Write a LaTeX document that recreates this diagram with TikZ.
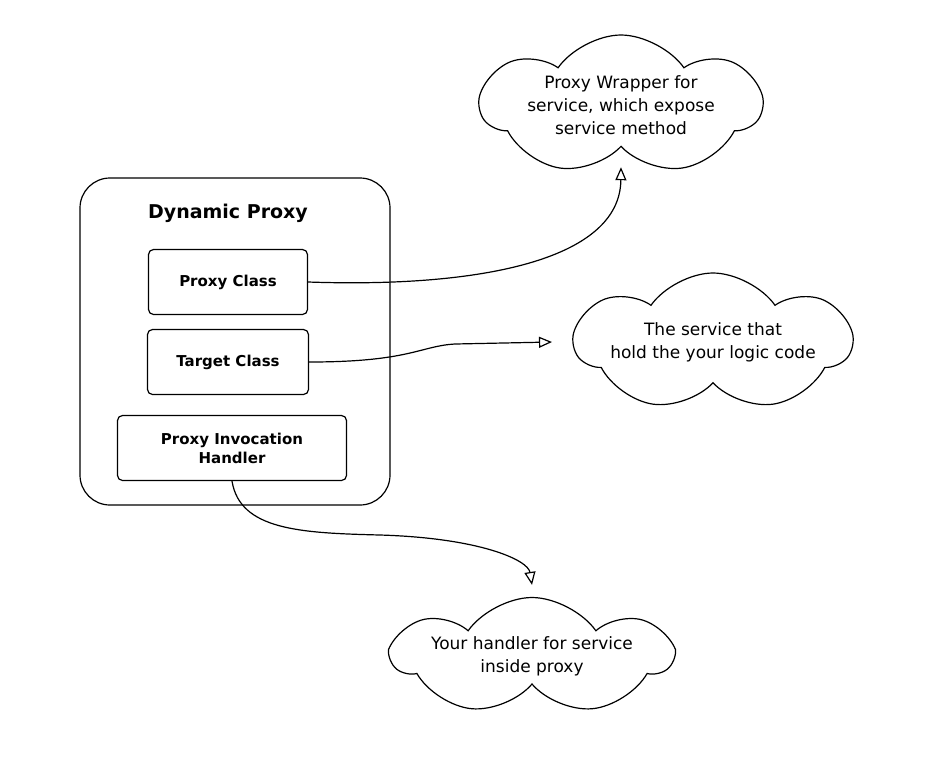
\documentclass[tikz,border=0pt]{standalone}
\usepackage{fontspec}
\setmainfont{DejaVu Sans}
\usetikzlibrary{shapes.symbols,arrows.meta}

\begin{document}
\begin{tikzpicture}[x=1pt,y=-1pt,line width=1.2pt,
	box/.style={draw,rounded corners=5pt,minimum height=65pt,align=center,font=\fontsize{15}{19}\selectfont\bfseries},
	puff/.style={draw,cloud,cloud puffs=7,cloud puff arc=110,cloud ignores aspect,inner sep=0pt,align=center,font=\fontsize{17}{23}\selectfont},
	link/.style={-{Triangle[open,length=13pt,width=11pt]}}]
	\useasboundingbox (0,0) rectangle (926,764);
	\node (dyn) [draw,rounded corners=30pt,minimum width=310pt,minimum height=327pt] at (235,341.5) {};
	\node (title) at (228,213) {\fontsize{19}{23}\selectfont\bfseries Dynamic Proxy};
	\node (pcls) [box,minimum width=159pt] at (228,282) {Proxy Class};
	\node (tcls) [box,minimum width=161pt] at (228,362) {Target Class};
	\node (hnd) [box,minimum width=229pt] at (232,448) {Proxy Invocation\\Handler};
	\node (wrap) [puff,minimum width=280pt,minimum height=140pt] at (621,105) {Proxy Wrapper for\\service, which expose\\service method};
	\node (svc) [puff,minimum width=276pt,minimum height=138pt] at (713,342) {The service that\\hold the your logic code};
	\node (mine) [puff,minimum width=278pt,minimum height=117pt] at (532,656) {Your handler for service\\inside proxy};
	\draw[link] (pcls.east) .. controls (480,288) and (620,260) .. ([yshift=-20pt]wrap.south);
	\draw[link] (tcls.east) .. controls (410,362) and (420,346) .. (455,344) -- ([xshift=-20pt]svc.west);
	\draw[link] (hnd.south) .. controls (240,530) and (300,533) .. (380,535) .. controls (480,538) and (528,560) .. ([yshift=12pt]mine.north);
\end{tikzpicture}
\end{document}
